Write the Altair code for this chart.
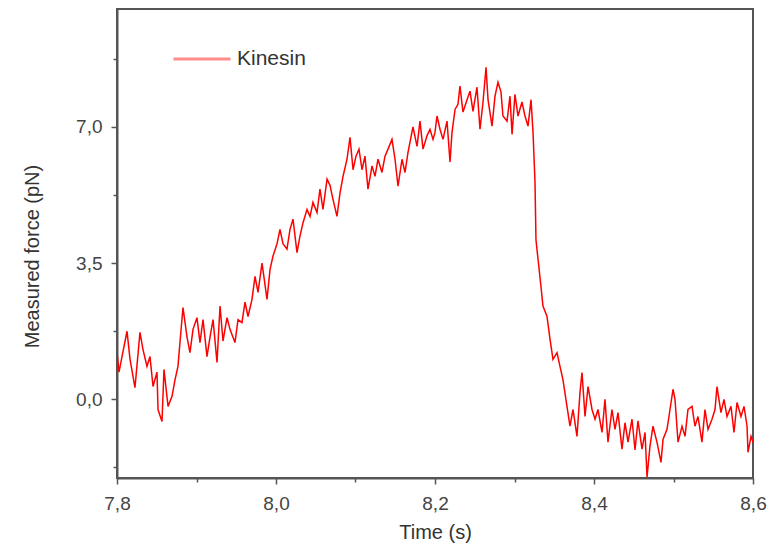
import altair as alt
import pandas as pd

# Time (s) and measured force (pN)
time_s = [
    7.8000, 7.8025, 7.8063, 7.8126, 7.8164, 7.8226, 7.8289, 7.8327, 7.8377, 7.8415,
    7.8453, 7.8503, 7.8516, 7.8566, 7.8591, 7.8642, 7.8692, 7.8730, 7.8767, 7.8792,
    7.8830, 7.8881, 7.8918, 7.8956, 7.9006, 7.9044, 7.9082, 7.9132, 7.9170, 7.9208,
    7.9258, 7.9296, 7.9333, 7.9384, 7.9421, 7.9484, 7.9522, 7.9572, 7.9610, 7.9648,
    7.9698, 7.9736, 7.9774, 7.9824, 7.9887, 7.9925, 7.9962, 8.0013, 8.0050, 8.0088,
    8.0138, 8.0176, 8.0214, 8.0264, 8.0302, 8.0340, 8.0390, 8.0428, 8.0465, 8.0516,
    8.0553, 8.0591, 8.0642, 8.0679, 8.0717, 8.0767, 8.0805, 8.0843, 8.0893, 8.0931,
    8.0969, 8.1006, 8.1044, 8.1082, 8.1119, 8.1157, 8.1208, 8.1245, 8.1283, 8.1333,
    8.1371, 8.1409, 8.1459, 8.1497, 8.1535, 8.1585, 8.1623, 8.1660, 8.1723, 8.1774,
    8.1811, 8.1849, 8.1899, 8.1937, 8.1975, 8.2000, 8.2025, 8.2063, 8.2101, 8.2151,
    8.2189, 8.2214, 8.2252, 8.2289, 8.2314, 8.2352, 8.2403, 8.2440, 8.2478, 8.2528,
    8.2566, 8.2604, 8.2642, 8.2667, 8.2717, 8.2755, 8.2792, 8.2830, 8.2855, 8.2906,
    8.2943, 8.2969, 8.3006, 8.3044, 8.3094, 8.3132, 8.3170, 8.3208, 8.3233, 8.3258,
    8.3270, 8.3296, 8.3333, 8.3358, 8.3409, 8.3447, 8.3484, 8.3535, 8.3572, 8.3610,
    8.3660, 8.3698, 8.3736, 8.3786, 8.3824, 8.3849, 8.3887, 8.3925, 8.3975, 8.4013,
    8.4050, 8.4101, 8.4138, 8.4176, 8.4226, 8.4264, 8.4302, 8.4352, 8.4390, 8.4428,
    8.4478, 8.4516, 8.4553, 8.4604, 8.4642, 8.4667, 8.4704, 8.4742, 8.4792, 8.4843,
    8.4868, 8.4918, 8.4943, 8.4994, 8.5019, 8.5057, 8.5107, 8.5145, 8.5182, 8.5233,
    8.5270, 8.5308, 8.5358, 8.5396, 8.5434, 8.5484, 8.5522, 8.5547, 8.5597, 8.5635,
    8.5673, 8.5723, 8.5761, 8.5799, 8.5849, 8.5887, 8.5925, 8.5937, 8.5975, 8.6000,
]
force_pn = [
    1.20, 0.70, 1.10, 1.75, 1.03, 0.30, 1.72, 1.28, 0.85, 1.10,
    0.33, 0.70, -0.26, -0.57, 0.77, -0.18, 0.08, 0.51, 0.85, 1.46,
    2.36, 1.60, 1.20, 1.80, 2.10, 1.46, 2.05, 1.10, 1.60, 2.05,
    0.95, 2.40, 1.50, 2.10, 1.80, 1.46, 2.05, 1.97, 2.50, 2.13,
    2.57, 3.16, 2.75, 3.50, 2.57, 3.34, 3.68, 4.00, 4.37, 4.00,
    3.86, 4.37, 4.63, 3.77, 4.20, 4.54, 4.88, 4.70, 5.06, 4.80,
    5.40, 4.88, 5.66, 5.50, 5.14, 4.70, 5.30, 5.73, 6.17, 6.73,
    5.90, 6.25, 6.43, 5.90, 6.25, 5.40, 6.00, 5.73, 6.17, 5.83,
    6.25, 6.43, 6.68, 6.17, 5.48, 6.17, 5.83, 6.34, 7.00, 6.50,
    7.15, 6.43, 6.77, 6.94, 6.68, 6.86, 7.28, 6.94, 6.68, 7.15,
    6.10, 6.86, 7.45, 7.58, 8.05, 7.38, 7.70, 7.92, 7.40, 8.02,
    6.94, 7.64, 8.53, 7.70, 7.02, 7.79, 8.15, 7.90, 7.28, 7.15,
    7.79, 6.81, 7.84, 7.28, 7.64, 7.28, 7.02, 7.70, 6.86, 5.58,
    4.10, 3.60, 2.90, 2.40, 2.13, 1.54, 1.03, 1.20, 0.85, 0.50,
    -0.18, -0.69, -0.26, -0.95, 0.18, 0.69, -0.44, 0.33, -0.26, -0.51,
    -0.26, -0.85, 0.00, -1.10, -0.26, -0.77, -0.34, -1.28, -0.60, -1.10,
    -0.51, -1.30, -0.55, -1.28, -0.85, -2.00, -1.20, -0.69, -1.10, -1.62,
    -1.03, -0.77, -0.44, 0.26, 0.00, -1.10, -0.69, -0.95, -0.26, -0.18,
    -0.69, -0.44, -1.10, -0.26, -0.77, -0.51, -0.26, 0.33, -0.34, 0.00,
    -0.44, -0.18, -0.85, -0.08, -0.44, -0.18, -0.69, -1.36, -0.95, -1.10,
]
series_name = "Kinesin"

x_ticks = [7.8, 7.9, 8.0, 8.1, 8.2, 8.3, 8.4, 8.5, 8.6]
y_ticks = [-1.75, 0.0, 1.75, 3.5, 5.25, 7.0, 8.75]

df = pd.DataFrame({"t": time_s, "f": force_pn, "s": [series_name] * len(time_s)})

font = "Liberation Sans"
axis_col = "#555555"

x_axis = alt.Axis(
    title="Time (s)",
    values=x_ticks,
    labelExpr="abs(round(datum.value*10)) % 2 == 0 ? replace(format(datum.value, '.1f'), '.', ',') : ''",
    tickSize={"condition": {"test": "abs(round(datum.value*10)) % 2 == 0", "value": 6}, "value": 4},
    labelFlush=False,
    labelOverlap=False,
    grid=False,
    labelPadding=10,
    titleBaseline="middle",
    titleY=54,
)
y_axis = alt.Axis(
    title="Measured force (pN)",
    values=y_ticks,
    labelExpr="abs(round(datum.value/1.75)) % 2 == 0 ? replace(format(datum.value, '.1f'), '.', ',') : ''",
    tickSize={"condition": {"test": "abs(round(datum.value/1.75)) % 2 == 0", "value": 6}, "value": 4},
    labelOverlap=False,
    grid=False,
    labelPadding=9,
    titleBaseline="middle",
    titleX=-85,
    titleY=247,
)

chart = alt.Chart(df).mark_line(strokeWidth=1.5, clip=True).encode(
    x=alt.X("t:Q", scale=alt.Scale(domain=[7.8, 8.6], nice=False, zero=False), axis=x_axis),
    y=alt.Y("f:Q", scale=alt.Scale(domain=[-2.02, 10.03], nice=False, zero=False), axis=y_axis),
    color=alt.Color(
        "s:N",
        scale=alt.Scale(domain=[series_name], range=["#ff0000"]),
        legend=alt.Legend(
            title=None,
            orient="none",
            legendX=55,
            legendY=20,
            symbolType="stroke",
            symbolSize=3249,
            symbolStrokeWidth=3,
            symbolOpacity=0.45,
            labelFontSize=21,
            labelColor="#333333",
            labelFont=font,
            padding=0,
            labelOffset=5,
        ),
    ),
).properties(
    width=636,
    height=469,
    autosize=alt.AutoSizeParams(type="none"),
    padding={"left": 109, "top": 1, "right": 16, "bottom": 67},
).configure_view(
    stroke=axis_col, strokeWidth=2
).configure_axis(
    domainColor=axis_col,
    domainWidth=2,
    tickColor=axis_col,
    tickWidth=1.5,
    labelFont=font,
    labelFontSize=19,
    labelColor="#444444",
    titleFont=font,
    titleFontSize=20,
    titleFontWeight="normal",
    titleColor="#333333",
)

chart.save("out.html", embed_options={"renderer": "svg", "actions": False})
